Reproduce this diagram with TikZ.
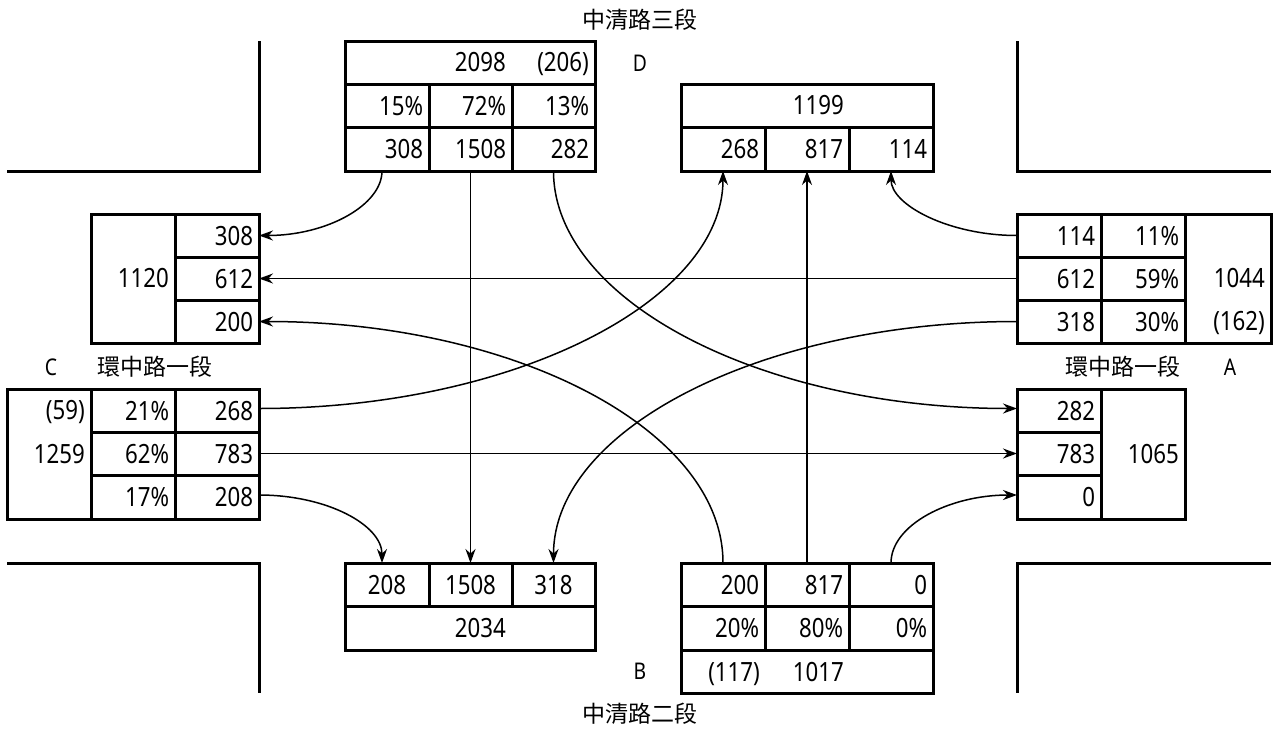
\documentclass[tikz,border=0pt]{standalone}
\usepackage{fontspec}
\setmainfont[FakeStretch=0.84]{Noto Sans}
\newfontfamily\cjk{Noto Sans CJK TC}
\usetikzlibrary{arrows.meta}
\tikzset{
  cellbox/.style={draw=black,line width=3pt,rectangle,inner sep=0pt,outer sep=0pt,font=\fontsize{26.5}{26.5}\selectfont,text height=19pt,text depth=0pt},
  road/.style={draw=black,line width=3pt},
  flow/.style={draw=black,line width=1.5pt,-{Stealth[length=14pt,width=10pt]}},
  numtxt/.style={inner sep=0pt,anchor=east,font=\fontsize{26.5}{26.5}\selectfont,text height=19pt,text depth=0pt},
  lettxt/.style={inner sep=0pt,font=\fontsize{23}{23}\selectfont},
  roadname/.style={inner sep=0pt,font=\cjk\fontsize{23}{23}\selectfont},
}
% name, x0, y0, x1, y1, right-aligned text
\newcommand{\rcell}[6]{\node[cellbox,minimum width={#4-#2},minimum height={#5-#3},text width={#4-#2-12},align=right] (#1) at ({(#2+#4)/2},{(#3+#5)/2}) {#6};}
% centred text
\newcommand{\ccell}[6]{\node[cellbox,minimum width={#4-#2},minimum height={#5-#3},align=center] (#1) at ({(#2+#4)/2},{(#3+#5)/2}) {#6};}
\newcommand{\ntxt}[4]{\node[numtxt] (#1) at (#2,#3) {#4};}
\begin{document}
\begin{tikzpicture}[x=1pt,y=-1pt]
\useasboundingbox (0,0) rectangle (1277,729);
% road corners
\draw[road] (259,41) -- (259,171) -- (7,171);
\draw[road] (1017,41) -- (1017,171) -- (1271,171);
\draw[road] (7,563) -- (259,563) -- (259,693);
\draw[road] (1271,563) -- (1017,563) -- (1017,693);
% D departures
\ccell{dtop}{345}{41}{595}{84}{}
\ntxt{dtotal}{506}{62}{2098}
\ntxt{dpeak}{589}{62}{(206)}
\rcell{dp1}{345}{84}{429}{127}{15\%}
\rcell{dp2}{429}{84}{512}{127}{72\%}
\rcell{dp3}{512}{84}{595}{127}{13\%}
\rcell{dn1}{345}{127}{429}{171}{308}
\rcell{dn2}{429}{127}{512}{171}{1508}
\rcell{dn3}{512}{127}{595}{171}{282}
% D arrivals
\ccell{ditop}{681}{84}{933}{127}{}
\ntxt{dit}{844}{105}{1199}
\rcell{di1}{681}{127}{765}{171}{268}
\rcell{di2}{765}{127}{849}{171}{817}
\rcell{di3}{849}{127}{933}{171}{114}
% C arrivals
\ccell{citot}{91}{214}{175}{343}{}
\ntxt{cit}{169}{278}{1120}
\rcell{ci1}{175}{214}{259}{257}{308}
\rcell{ci2}{175}{257}{259}{300}{612}
\rcell{ci3}{175}{300}{259}{343}{200}
% A departures
\rcell{an1}{1017}{214}{1101}{257}{114}
\rcell{an2}{1017}{257}{1101}{300}{612}
\rcell{an3}{1017}{300}{1101}{343}{318}
\rcell{ap1}{1101}{214}{1185}{257}{11\%}
\rcell{ap2}{1101}{257}{1185}{300}{59\%}
\rcell{ap3}{1101}{300}{1185}{343}{30\%}
\ccell{atot}{1185}{214}{1271}{343}{}
\ntxt{atotal}{1265}{278}{1044}
\ntxt{apeak}{1265}{321}{(162)}
% C departures
\ccell{ctot}{7}{389}{91}{519}{}
\ntxt{cpeak}{85}{410}{(59)}
\ntxt{ctotal}{85}{454}{1259}
\rcell{cp1}{91}{389}{175}{432}{21\%}
\rcell{cp2}{91}{432}{175}{475}{62\%}
\rcell{cp3}{91}{475}{175}{519}{17\%}
\rcell{cn1}{175}{389}{259}{432}{268}
\rcell{cn2}{175}{432}{259}{475}{783}
\rcell{cn3}{175}{475}{259}{519}{208}
% A arrivals
\rcell{ai1}{1017}{389}{1101}{432}{282}
\rcell{ai2}{1017}{432}{1101}{475}{783}
\rcell{ai3}{1017}{475}{1101}{519}{0}
\ccell{aitot}{1101}{389}{1185}{519}{}
\ntxt{ait}{1179}{454}{1065}
% B arrivals
\ccell{bi1}{345}{563}{429}{606}{208}
\ccell{bi2}{429}{563}{512}{606}{1508}
\ccell{bi3}{512}{563}{595}{606}{318}
\ccell{bitot}{345}{606}{595}{650}{}
\ntxt{bit}{506}{628}{2034}
% B departures
\rcell{bn1}{681}{563}{765}{606}{200}
\rcell{bn2}{765}{563}{849}{606}{817}
\rcell{bn3}{849}{563}{933}{606}{0}
\rcell{bp1}{681}{606}{765}{650}{20\%}
\rcell{bp2}{765}{606}{849}{650}{80\%}
\rcell{bp3}{849}{606}{933}{650}{0\%}
\ccell{btot}{681}{650}{933}{693}{}
\ntxt{bpeak}{760}{672}{(117)}
\ntxt{btotal}{844}{672}{1017}
% labels
\node[roadname] (nameN) at (640,20) {中清路三段};
\node[roadname] (nameS) at (640,714) {中清路二段};
\node[roadname] (nameW) at (155,367) {環中路一段};
\node[roadname] (nameE) at (1123,367) {環中路一段};
\node[lettxt] (letA) at (1230,367) {A};
\node[lettxt] (letB) at (640,671) {B};
\node[lettxt] (letC) at (51,367) {C};
\node[lettxt] (letD) at (640,63) {D};
% flows
\draw[flow] ([xshift=-5pt]dn1.south) .. controls +(0,34) and +(68,0) .. (ci1.east);
\draw[flow] (dn2.south) -- (dn2.south |- bi2.north);
\draw[flow] (dn3.south) .. controls +(0,130) and +(-255,0) .. ([yshift=2pt]ai1.west);
\draw[flow] ([yshift=2pt]cn1.east) .. controls +(255,0) and +(0,130) .. (di1.south);
\draw[flow] (cn2.east) -- (ai2.west);
\draw[flow] ([yshift=2pt]cn3.east) .. controls +(68,0) and +(0,-38) .. ([xshift=-5pt]bi1.north);
\draw[flow] (an1.west) .. controls +(-68,0) and +(0,34) .. (di3.south);
\draw[flow] (an2.west) -- (ci2.east);
\draw[flow] (an3.west) .. controls +(-255,0) and +(0,-134) .. (bi3.north);
\draw[flow] (bn1.north) .. controls +(0,-134) and +(255,0) .. (ci3.east);
\draw[flow] (bn2.north) -- (di2.south);
\draw[flow] (bn3.north) .. controls +(0,-38) and +(-68,0) .. ([yshift=2pt]ai3.west);
\end{tikzpicture}
\end{document}
